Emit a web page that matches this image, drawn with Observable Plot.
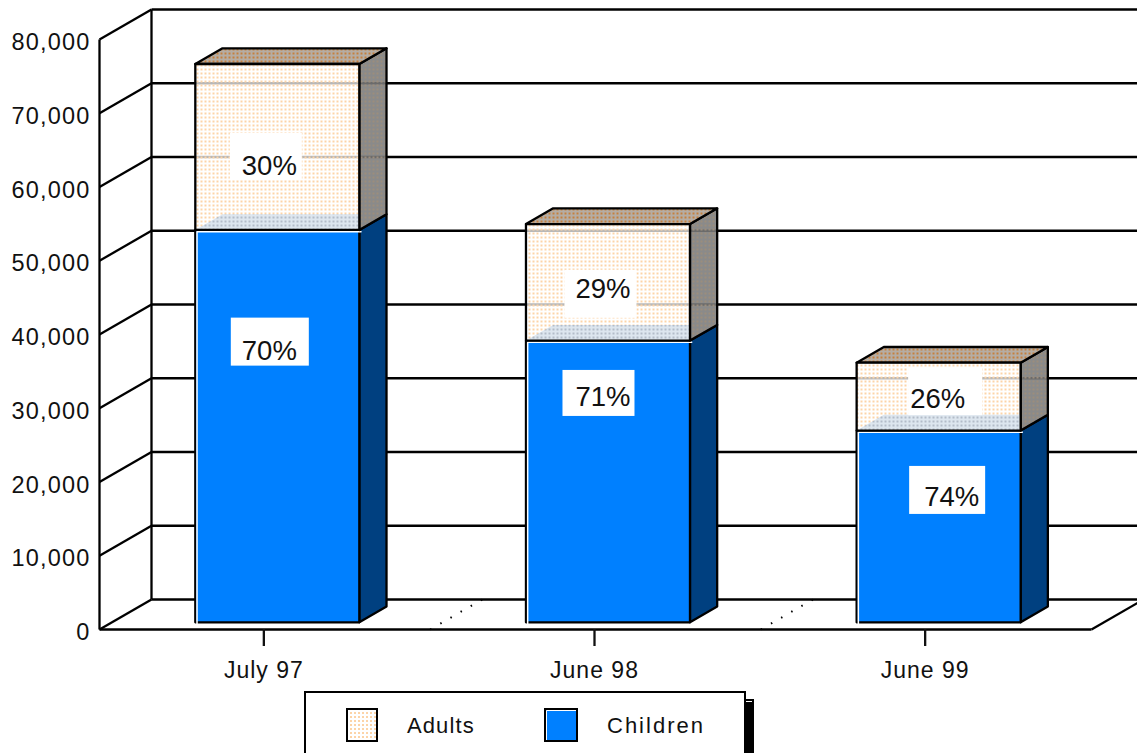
<!DOCTYPE html>
<html>
<head>
<meta charset="utf-8">
<script src="https://cdn.jsdelivr.net/npm/d3@7"></script>
<script src="https://cdn.jsdelivr.net/npm/@observablehq/plot@0.6"></script>
<style>
  html, body { margin: 0; padding: 0; background: #fff; overflow: hidden; height: 753px; }
  svg { display: block; }
  g[aria-label="y-axis tick label"] text { letter-spacing: 1.2px; }
  g[aria-label="x-axis tick label"] text { letter-spacing: 1px; }
  #legend-clip { position: relative; height: 62px; overflow: hidden; font-family: "Liberation Sans", sans-serif; }
  #legend-box { position: absolute; left: 304px; top: 0; width: 438px; height: 90px; border: 2px solid #000;
                background: #fff; box-shadow: 8px 8px 0 #000; }
  #legend-notch { position: absolute; left: 746px; top: 10px; width: 6px; height: 1px; background: #fff; }
  .swatch { position: absolute; top: 15px; }
  .legend-label { position: absolute; top: 20px; font-size: 22px; line-height: 26px; color: #111; }
</style>
</head>
<body>
<div id="chart"></div>
<script>
// Caseload by month, split into children and adults
const periods = ["July 97", "June 98", "June 99"];
const children = [53200, 38200, 26000];
const adults = [22500, 15800, 9200];
const gridValues = [0, 10000, 20000, 30000, 40000, 50000, 60000, 70000, 80000];

// Oblique projection: a point at depth z (0 = front wall, 1 = back wall)
// moves right and up by these amounts, in scale units.
const depthX = 52 / 330.67;
const depthY = 4068;
const barFront = 0.24;
const barBack = 0.763;
const barHalfWidth = 0.248;
const lineWidth = 2.3;

const project = (x, v, z) => ({x: x + z * depthX, y: v + z * depthY});

function frontFace(i, v0, v1) {
  const l = i + 0.5 - barHalfWidth, r = i + 0.5 + barHalfWidth;
  return [[l, v0], [l, v1], [r, v1], [r, v0]].map(([x, v]) => ({bar: i, ...project(x, v, barFront)}));
}
function sideFace(i, v0, v1) {
  const r = i + 0.5 + barHalfWidth;
  return [[v0, barFront], [v1, barFront], [v1, barBack], [v0, barBack]].map(([v, z]) => ({bar: i, ...project(r, v, z)}));
}
function topFace(i, v) {
  const l = i + 0.5 - barHalfWidth, r = i + 0.5 + barHalfWidth;
  return [[l, barFront], [r, barFront], [r, barBack], [l, barBack]].map(([x, z]) => ({bar: i, ...project(x, v, z)}));
}
// The top of the children segment, as far as it can be seen through the adults' front
function floorFace(i, v) {
  const l = i + 0.5 - barHalfWidth, r = i + 0.5 + barHalfWidth, dz = barBack - barFront;
  return [
    project(l, v, barFront),
    project(l, v, barBack),
    project(r, v + dz * depthY, barFront),
    project(r, v, barFront)
  ].map((p) => ({bar: i, ...p}));
}

const indices = d3.range(periods.length);
const faces = (fn) => indices.flatMap(fn);

function faceMark(rows, fill, stroke) {
  return Plot.line(rows, {
    x: "x", y: "y", z: "bar", curve: "linear-closed",
    fill, stroke: stroke ?? "none", strokeWidth: lineWidth
  });
}

// Dotted halftone fills
const halftones = [
  {id: "adultsFront", bg: "rgba(255,255,255,0.72)", dot: "#fcd4a8"},
  {id: "adultsFloor", bg: "#dde6ef", dot: "#b3bcc8"},
  {id: "adultsSide", bg: "rgba(122,122,122,0.88)", dot: "#9c8d7c"},
  {id: "adultsTop", bg: "#b5ada4", dot: "#c4803f"},
  {id: "swatchAdults", bg: "#fff", dot: "#fcd4a8"}
];
function patternDefs() {
  const defs = d3.create("svg:defs");
  for (const h of halftones) {
    const p = defs.append("pattern").attr("id", h.id).attr("patternUnits", "userSpaceOnUse")
      .attr("width", 4).attr("height", 4);
    p.append("rect").attr("width", 4).attr("height", 4).attr("fill", h.bg);
    p.append("rect").attr("width", 2).attr("height", 2).attr("fill", h.dot);
  }
  return defs.node();
}

// Percentage labels sit near the middle of their segment; offsets are in pixels.
const pct = d3.format(".0%");
const labelSpots = [
  {text: [-8, 19], box: [-11, 10, 72, 47]},
  {text: [-8, -75], box: [-7, -84, 78, 48]},
  {text: [-5, 7], box: [-7, 12, 72, 48]},
  {text: [-5, -84], box: [-9, -88, 72, 46]},
  {text: [-1, 3], box: [7, -5, 74, 48]},
  {text: [13, -29], box: [9, -36, 76, 48]}
];
const labels = indices.flatMap((i) => {
  const total = children[i] + adults[i];
  return [
    {share: adults[i] / total, ...project(i + 0.5, children[i] + adults[i] / 2, barFront)},
    {share: children[i] / total, ...project(i + 0.5, children[i] / 2, barFront)}
  ];
}).map((d, k) => ({...d, spot: labelSpots[k]}));

const labelMarks = labels.flatMap((d) => {
  const [bx, by, bw, bh] = d.spot.box;
  return [
    Plot.rect([d], {
      x1: "x", x2: "x", y1: "y", y2: "y", fill: "white",
      insetLeft: -bw / 2, insetRight: -bw / 2, insetTop: -bh / 2, insetBottom: -bh / 2,
      dx: bx, dy: by
    }),
    Plot.text([d], {
      x: "x", y: "y", text: (r) => pct(r.share), fontSize: 27.5, fill: "#111",
      dx: d.spot.text[0], dy: d.spot.text[1]
    })
  ];
});

const wall = (x1, v1, z1, x2, v2, z2) => {
  const a = project(x1, v1, z1), b = project(x2, v2, z2);
  return {x1: a.x, y1: a.y, x2: b.x, y2: b.y};
};
const link = (rows, extra = {}) =>
  Plot.link(rows, {x1: "x1", y1: "y1", x2: "x2", y2: "y2", stroke: "#000", strokeWidth: lineWidth, ...extra});

const topValue = gridValues[gridValues.length - 1];

const chart = Plot.plot({
  width: 1137,
  height: 691,
  marginTop: 39,
  marginBottom: 62,
  marginLeft: 99,
  marginRight: 46,
  style: {fontFamily: "'Liberation Sans', sans-serif", background: "transparent", color: "#111"},
  x: {domain: [0, periods.length]},
  y: {domain: [0, topValue]},
  marks: [
    patternDefs,
    // Back wall and the slanted wall rules
    link(gridValues.map((v) => wall(0, v, 1, periods.length + 0.2, v, 1))),
    link(gridValues.map((v) => wall(0, v, 0, 0, v, 1))),
    link([wall(0, 0, 0, 0, topValue, 0), wall(0, 0, 1, 0, topValue, 1)]),
    link([wall(0, 0, 0, periods.length, 0, 0), wall(periods.length, 0, 0, periods.length, 0, 1)]),
    // Dotted dividers across the floor between groups
    link([wall(1, 0, 0, 1, 0, 1), wall(2, 0, 0, 2, 0, 1)], {strokeWidth: 2, strokeDasharray: "1.5 10.2"}),
    // Children segment
    faceMark(faces((i) => sideFace(i, 0, children[i])), "#004080", "#000"),
    faceMark(faces((i) => frontFace(i, 0, children[i])), "#0080ff", "#000"),
    Plot.line(faces((i) => frontFace(i, 0, children[i]).slice(0, 3)), {
      x: "x", y: "y", z: "bar", stroke: "#fff", strokeWidth: 1.5, dx: 1.7, dy: 1.7
    }),
    // Adults segment, see-through so the rules and the floor show behind it
    faceMark(faces((i) => sideFace(i, children[i], children[i] + adults[i])), "url(#adultsSide)", "#000"),
    faceMark(faces((i) => topFace(i, children[i] + adults[i])), "url(#adultsTop)", "#000"),
    faceMark(faces((i) => frontFace(i, children[i], children[i] + adults[i])), "url(#adultsFront)"),
    faceMark(faces((i) => floorFace(i, children[i])), "url(#adultsFloor)"),
    ...labelMarks,
    faceMark(faces((i) => frontFace(i, children[i], children[i] + adults[i])), "none", "#000"),
    // Axes
    Plot.axisY(gridValues, {
      anchor: "left", tickSize: 0, tickPadding: 9, fontSize: 23.5, label: null,
      tickFormat: d3.format(","), dy: 3
    }),
    Plot.axisX(indices.map((i) => i + 0.5), {
      anchor: "bottom", tickSize: 17, tickPadding: 15, fontSize: 23, label: null,
      strokeWidth: lineWidth, dx: -1, tickFormat: (d) => periods[Math.floor(d)]
    })
  ]
});
document.getElementById("chart").append(chart);

// Legend below the plot
const legend = d3.select("body").append("div").attr("id", "legend-clip");
const box = legend.append("div").attr("id", "legend-box");
legend.append("div").attr("id", "legend-notch");
const entries = [
  {name: "Adults", fill: "url(#swatchAdults)", swatchX: 40, swatchW: 32, labelX: 101, tracking: 1.1, highlight: false},
  {name: "Children", fill: "#0080ff", swatchX: 238, swatchW: 34, labelX: 301, tracking: 2, highlight: true}
];
for (const e of entries) {
  const s = box.append("svg").attr("class", "swatch").attr("width", e.swatchW).attr("height", 34)
    .style("left", `${e.swatchX}px`);
  s.append("rect").attr("x", 1).attr("y", 1).attr("width", e.swatchW - 2).attr("height", 32)
    .attr("fill", e.fill).attr("stroke", "#000").attr("stroke-width", 2);
  if (e.highlight) {
    s.append("path").attr("d", `M2.5 32V2.5H${e.swatchW - 2}`).attr("fill", "none").attr("stroke", "#fff").attr("stroke-width", 1);
  }
  box.append("div").attr("class", "legend-label").style("left", `${e.labelX}px`)
    .style("letter-spacing", `${e.tracking}px`).text(e.name);
}
</script>
</body>
</html>
